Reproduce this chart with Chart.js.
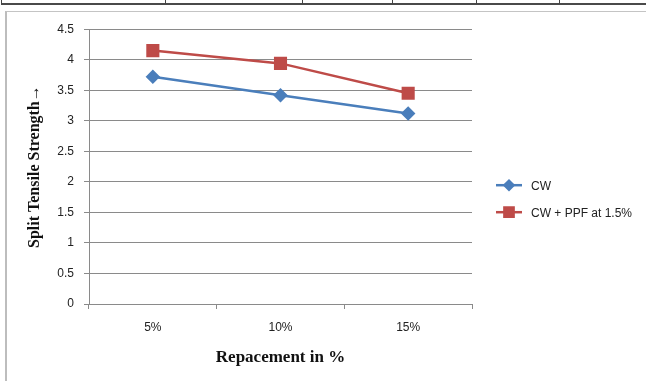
<!DOCTYPE html>
<html lang="en">
<head>
  <meta charset="UTF-8">
  <title>Split Tensile Strength</title>
  <script src="https://cdn.jsdelivr.net/npm/chart.js"></script>
  <style>
    html, body {
      margin: 0;
      padding: 0;
      width: 646px;
      height: 381px;
      overflow: hidden;
      background: #fff;
    }

    /* bottom edge of the table row above the chart */
    .table-row {
      position: absolute;
      left: 1px;
      top: -1px;
      width: 645px;
      height: 4px;
      border-left: 1px solid #444;
      border-bottom: 2px solid #4a4a4a;
    }

    .table-row span {
      position: absolute;
      top: 0;
      width: 1px;
      height: 5px;
      background: #444;
    }

    .chart-box {
      position: absolute;
      left: 5px;
      top: 11px;
      width: 639px;
      height: 372px;
      border: 1px solid #c4c4c4;
      border-left: 2px solid #bdbdbd;
    }

    canvas {
      display: block;
    }
  </style>
</head>
<body>
  <div class="table-row">
    <span style="left:163px"></span>
    <span style="left:300px"></span>
    <span style="left:390px"></span>
    <span style="left:474px"></span>
    <span style="left:557px"></span>
  </div>

  <div class="chart-box">
    <canvas id="chart" width="639" height="369"></canvas>
  </div>

  <script>
    const categories = ['5%', '10%', '15%'];
    const cw = [3.72, 3.42, 3.12];
    const cwPpf = [4.15, 3.94, 3.45];
    const yMax = 4.5;
    const yStep = 0.5;

    const tickFont = { family: 'Liberation Sans', size: 12 };
    const gridColor = '#8a8a8a';

    // legend to the right: short line with the marker in the middle, like the series
    const sideLegend = {
      id: 'sideLegend',
      afterDraw(chart) {
        const ctx = chart.ctx;
        const area = chart.chartArea;
        const x0 = area.right + 24;
        const x1 = area.right + 50;
        chart.data.datasets.forEach((ds, i) => {
          const y = area.top + 156 + i * 27;
          ctx.save();
          ctx.strokeStyle = ds.borderColor;
          ctx.lineWidth = ds.borderWidth;
          ctx.beginPath();
          ctx.moveTo(x0, y);
          ctx.lineTo(x1, y);
          ctx.stroke();
          ctx.fillStyle = ds.pointBackgroundColor;
          ctx.strokeStyle = ds.pointBorderColor;
          Chart.helpers.drawPoint(ctx, {
            pointStyle: ds.pointStyle,
            radius: ds.pointRadius - 1,
            borderWidth: 1
          }, (x0 + x1) / 2, y);
          ctx.fillStyle = '#222';
          ctx.font = '12px "Liberation Sans"';
          ctx.textBaseline = 'middle';
          ctx.fillText(ds.label, area.right + 59, y + 1);
          ctx.restore();
        });
      }
    };

    new Chart(document.getElementById('chart'), {
      type: 'line',
      data: {
        labels: categories,
        datasets: [
          {
            label: 'CW',
            data: cw,
            borderColor: '#4a7ebb',
            backgroundColor: '#4a7ebb',
            pointBackgroundColor: '#4a7ebb',
            pointBorderColor: '#4a7ebb',
            pointStyle: 'rectRot',
            pointRadius: 5.5,
            borderWidth: 2.5,
            tension: 0
          },
          {
            label: 'CW + PPF at 1.5%',
            data: cwPpf,
            borderColor: '#be4b48',
            backgroundColor: '#be4b48',
            pointBackgroundColor: '#be4b48',
            pointBorderColor: '#be4b48',
            pointStyle: 'rect',
            pointRadius: 7.5,
            borderWidth: 2.5,
            tension: 0
          }
        ]
      },
      options: {
        responsive: false,
        animation: false,
        layout: { padding: { top: 15, right: 174, left: 0, bottom: 0 } },
        plugins: {
          legend: { display: false },
          tooltip: { enabled: false }
        },
        scales: {
          x: {
            offset: true,
            afterFit(s) { s.height = 77; },
            grid: {
              offset: true,
              drawOnChartArea: false,
              drawTicks: true,
              tickLength: 5,
              color: gridColor
            },
            border: { color: gridColor, width: 1 },
            ticks: { font: tickFont, color: '#222', padding: 11 },
            title: {
              display: true,
              text: 'Repacement in %',
              font: { family: 'Liberation Serif', size: 17, weight: 'bold' },
              color: '#111',
              padding: { top: 0, bottom: 13 }
            }
          },
          y: {
            min: 0,
            max: yMax,
            afterFit(s) { s.width = 82; },
            grid: {
              color: gridColor,
              tickLength: 5
            },
            border: { color: gridColor, width: 1 },
            ticks: {
              stepSize: yStep,
              font: tickFont,
              color: '#222',
              padding: 10,
              // plain numbers: 4 rather than 4.0
              callback: v => String(v)
            },
            title: {
              display: true,
              text: 'Split Tensile Strength\u2192',
              font: { family: 'Liberation Serif', size: 16, weight: 'bold' },
              color: '#111',
              padding: { top: 18, bottom: 0 }
            }
          }
        }
      },
      plugins: [sideLegend]
    });
  </script>
</body>
</html>
